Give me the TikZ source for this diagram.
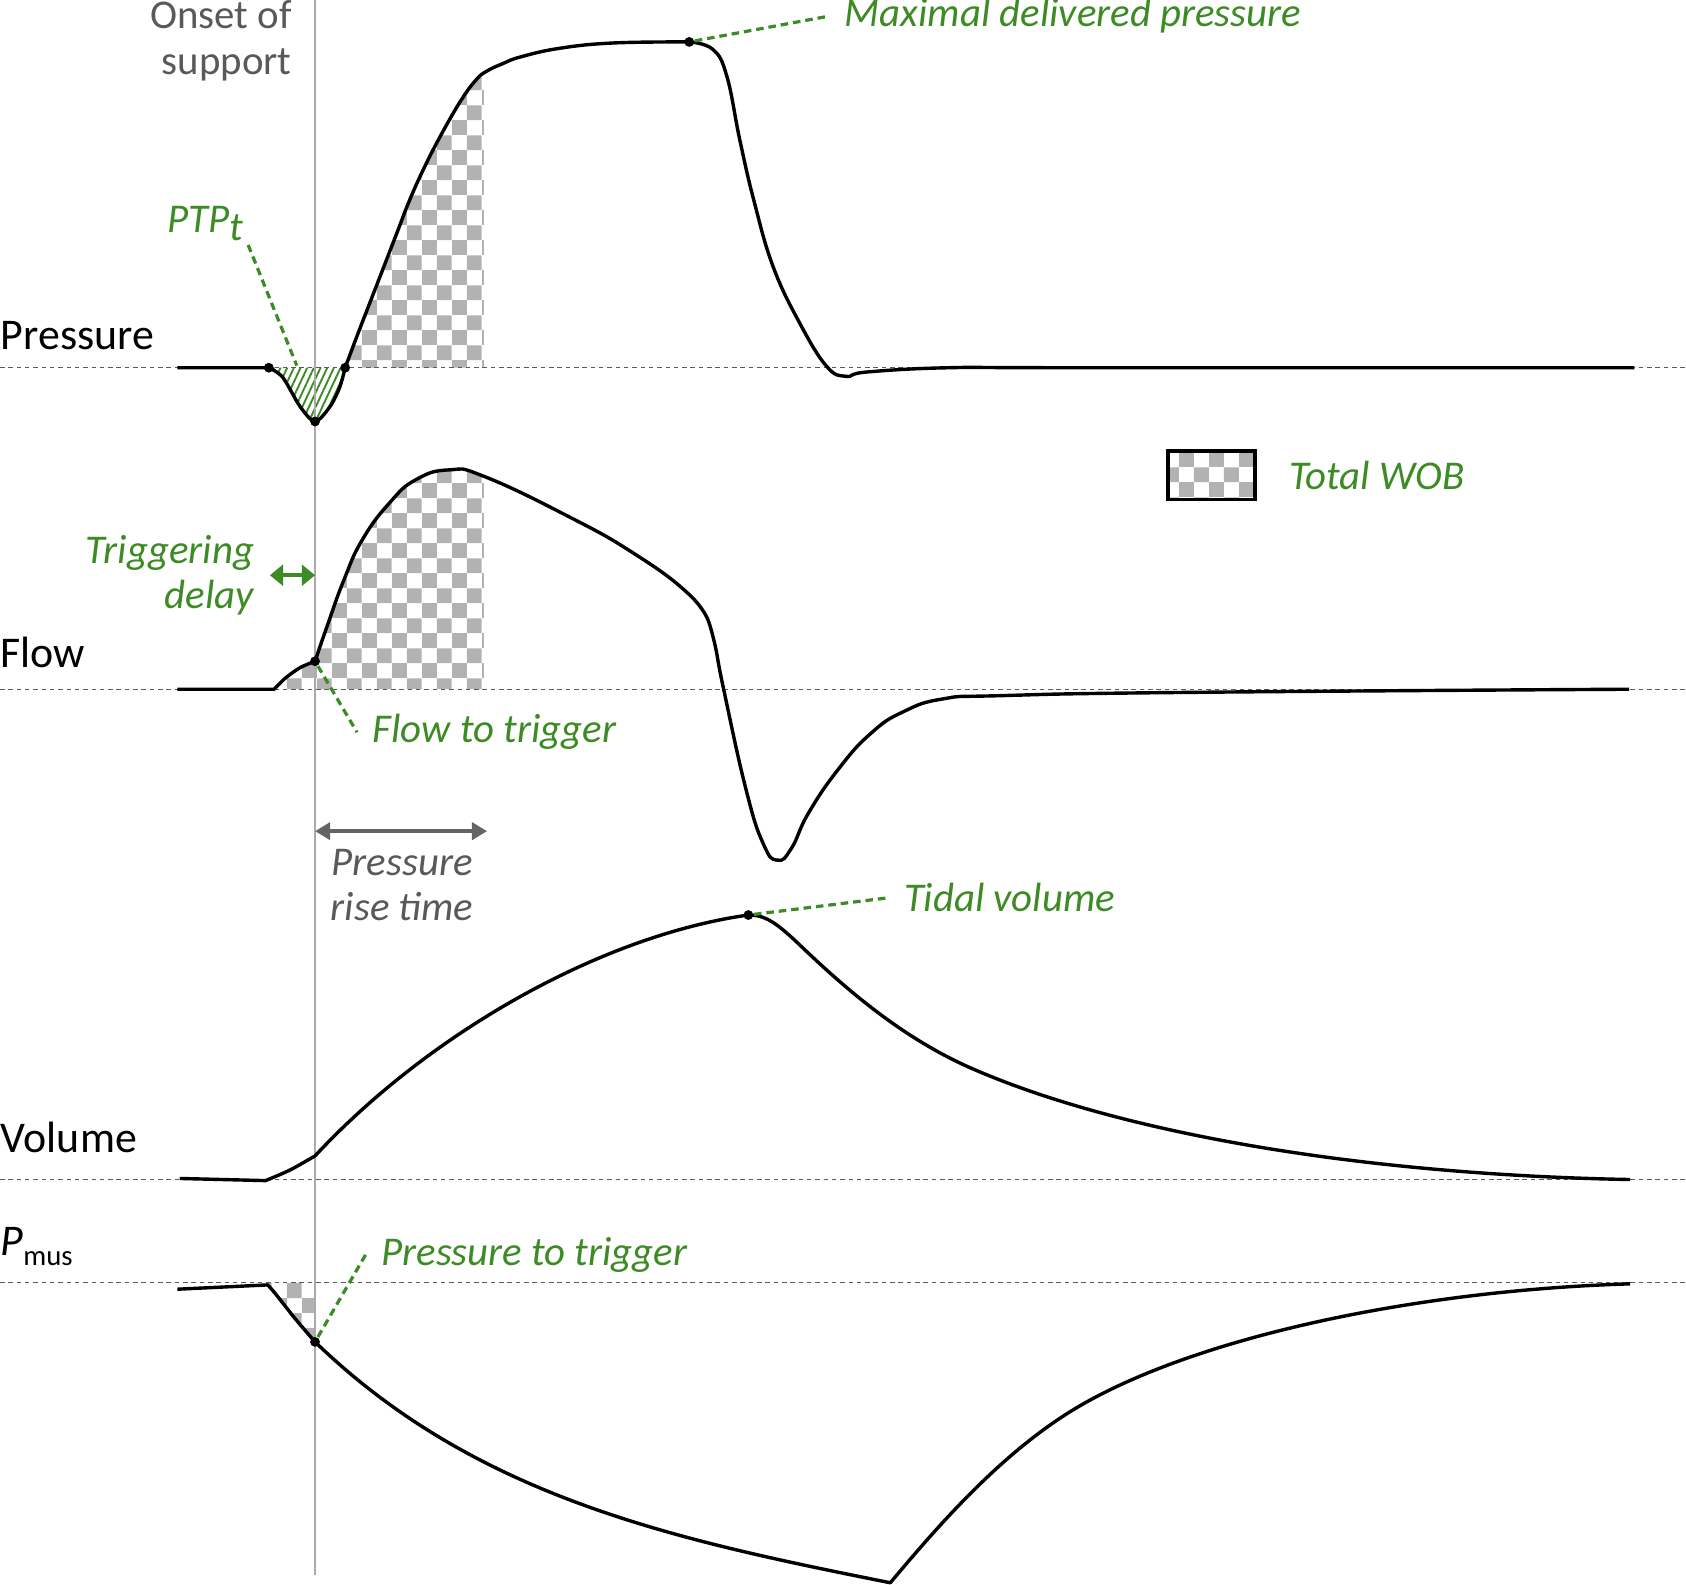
\documentclass[tikz,border=0pt]{standalone}
\usepackage{fontspec}
\setmainfont{Carlito}
\usetikzlibrary{arrows.meta,patterns,patterns.meta,positioning}

\definecolor{labgreen}{RGB}{61,139,37}
\definecolor{wobgray}{RGB}{178,178,178}
\definecolor{textgray}{RGB}{89,89,89}
\definecolor{arrowgray}{RGB}{100,100,100}
\definecolor{onsetgray}{RGB}{170,170,170}
\definecolor{basegray}{RGB}{90,90,90}

% checkerboard used for the total work of breathing
\pgfdeclarepatternformonly{wobcheck}{\pgfqpoint{0pt}{0pt}}{\pgfqpoint{8pt}{8pt}}{\pgfqpoint{8pt}{8pt}}{%
  \pgfpathrectangle{\pgfqpoint{0pt}{0pt}}{\pgfqpoint{4pt}{4pt}}%
  \pgfpathrectangle{\pgfqpoint{4pt}{4pt}}{\pgfqpoint{4pt}{4pt}}%
  \pgfusepath{fill}}

\tikzset{
  trace/.style={line width=0.9pt, line join=round},
  zeroline/.style={basegray, line width=0.35pt, dash pattern=on 1.2pt off 1pt},
  leader/.style={labgreen, line width=0.85pt, dash pattern=on 2pt off 1.3pt},
  wob/.style={pattern=wobcheck, pattern color=wobgray},
  ptp/.style={pattern={Lines[angle=65,distance=1.6pt,line width=0.5pt]}, pattern color=labgreen},
  axislabel/.style={font=\fontsize{11.6}{13}\selectfont, inner sep=0pt},
  glabel/.style={labgreen, font=\fontsize{10.8}{12}\selectfont\itshape, inner sep=4pt},
  greytext/.style={textgray, font=\fontsize{10.8}{12}\selectfont, inner sep=0pt},
  dot/.style={circle, fill=black, inner sep=0pt, minimum size=2.6pt},
  trigarrow/.style={labgreen, line width=1.1pt, {Triangle[length=3.5pt,width=5.5pt]}-{Triangle[length=3.5pt,width=5.5pt]}},
  risearrow/.style={arrowgray, line width=1pt, {Triangle[length=4pt,width=4.5pt]}-{Triangle[length=4pt,width=4.5pt]}},
}

% curve pieces
\newcommand{\presdip}{-- plot[smooth] coordinates {(250,342) (263,351) (279,378) (293,392) (307,378) (316,360) (321,342)}}
\newcommand{\pressurepath}{(165,342) -- (250,342) \presdip
  -- plot[smooth, tension=0.7] coordinates {(321,342) (333,310) (345,279) (357,248) (369,217) (381,186) (395,155) (411,124) (429,93) (443,74) (453,66) (468,59) (484,53) (520,45) (570,40) (641,39)}
  -- plot[smooth, tension=0.7] coordinates {(641,39) (663,46) (676,71) (688,130) (701,186) (719,248) (744,301) (769,341) (787,350) (806,346) (883,342) (1000,342) (1520,342)}}
\newcommand{\flowpath}{(165,641) -- (255,641)
  -- plot[smooth] coordinates {(255,641) (265,631) (279,621) (293,615)}
  -- plot[smooth, tension=0.8] coordinates {(293,615) (304,583) (320,539) (337,502) (362,468) (387,446) (418,437) (450,443) (528,480) (590,515) (640,552) (659,578)}
  -- plot[smooth, tension=0.8] coordinates {(659,578) (665,600) (673,641) (694,735) (710,785) (723,800) (736,789) (752,756) (780,715) (810,682) (840,662) (877,650) (930,647) (1100,644) (1515,641)}}
\newcommand{\volumepath}{(167,1096) -- (247,1098)
  -- plot[smooth] coordinates {(247,1098) (270,1088) (293,1075)}
  .. controls (400,960) and (560,870) .. (696,851)
  .. controls (712,851) and (722,858) .. (745,880)
  .. controls (790,923) and (840,965) .. (900,992)
  .. controls (1030,1050) and (1250,1092) .. (1516,1097)}
\newcommand{\pmusdrop}{-- plot[smooth] coordinates {(249,1195) (256,1203) (275,1227) (293,1248)}}
\newcommand{\pmuspath}{(165,1199) -- (249,1195) \pmusdrop
  .. controls (443,1393) and (628,1432) .. (828,1472)
  .. controls (870,1422) and (930,1352) .. (1000,1310)
  .. controls (1110,1244) and (1316,1200) .. (1516,1194)}

\begin{document}
\begin{tikzpicture}[x=0.01cm, y=-0.01cm]
  \useasboundingbox (0,0) rectangle (1568,1474);

  % shaded areas
  \begin{scope}
    \clip (321,0) rectangle (450,342);
    \fill[wob] \pressurepath -- cycle;
  \end{scope}
  \begin{scope}
    \clip (255,0) rectangle (450,641);
    \fill[wob] \flowpath -- cycle;
  \end{scope}
  \fill[wob] (249,1193) -- (249,1195) \pmusdrop -- (293,1193) -- cycle;
  \fill[ptp] (250,342) \presdip -- cycle;

  % zero lines and onset of support
  \draw[zeroline] (0,342) -- (1568,342);
  \draw[zeroline] (0,641) -- (1568,641);
  \draw[zeroline] (0,1097) -- (1568,1097);
  \draw[zeroline] (0,1193) -- (1568,1193);
  \coordinate (onsettop) at (293,0);
  \coordinate (onsetbot) at (293,1465);
  \draw[onsetgray, line width=0.5pt] (onsettop) -- (onsetbot);

  % traces
  \draw[trace] \pressurepath;
  \draw[trace] \flowpath;
  \draw[trace] \volumepath;
  \draw[trace] \pmuspath;

  \node[dot] (pstart) at (250,342) {};
  \node[dot] (pmin) at (293,392) {};
  \node[dot] (pcross) at (321,342) {};
  \node[dot] (pmax) at (641,39) {};
  \node[dot] (ftrig) at (293,615) {};
  \node[dot] (vtpeak) at (696,851) {};
  \node[dot] (ptrig) at (293,1248) {};
  \coordinate (ptpend) at (276,340);

  % labels
  \node[axislabel, anchor=base west] (plbl) at (0,325) {Pressure};
  \node[axislabel, anchor=base west] (flbl) at (0,621) {Flow};
  \node[axislabel, anchor=base west] (vlbl) at (0,1072) {Volume};
  \node[axislabel, anchor=base west] (pmuslbl) at (0,1168) {\textit{P}\raisebox{-2.5pt}{\fontsize{7.6}{9}\selectfont mus}};
  \node[greytext, align=right, anchor=north east] (onsetlbl) at (272,0) {Onset of\\support};

  \node[glabel, anchor=west] (maxlbl) at (771,15) {Maximal delivered pressure};
  \node[glabel, inner sep=1pt, anchor=base west] (ptplbl) at (152,216) {PTP\raisebox{-0.4ex}{t}};
  \node[glabel, align=right, anchor=east] (trglbl) at (251,535) {Triggering\\delay};
  \node[glabel, anchor=west] (ftlbl) at (332,681) {Flow to trigger};
  \node[glabel, anchor=west] (tvlbl) at (826,835) {Tidal volume};
  \node[glabel, anchor=west] (ptlbl) at (340,1167) {Pressure to trigger};
  \node[greytext, font=\fontsize{10.8}{12}\selectfont\itshape, align=center, anchor=north] (riselbl) at (374,789) {Pressure\\rise time};

  \node[draw, line width=1pt, wob, minimum width=0.81cm, minimum height=0.45cm] (wobkey) at (1127,442) {};
  \node[glabel, right=0.15cm of wobkey] (woblbl) {Total WOB};

  % leaders and arrows
  \draw[leader] (pmax) -- (maxlbl.west);
  \draw[leader] (ptplbl.south east) -- (ptpend);
  \draw[leader] (ftrig) -- (ftlbl.west);
  \draw[leader] (vtpeak) -- (tvlbl.west);
  \draw[leader] (ptrig) -- (ptlbl.west);
  \draw[trigarrow] (trglbl.east) -- (trglbl.east -| onsettop);
  \coordinate (riseend) at (453,773);
  \draw[risearrow] (riseend -| onsettop) -- (riseend);
\end{tikzpicture}
\end{document}
